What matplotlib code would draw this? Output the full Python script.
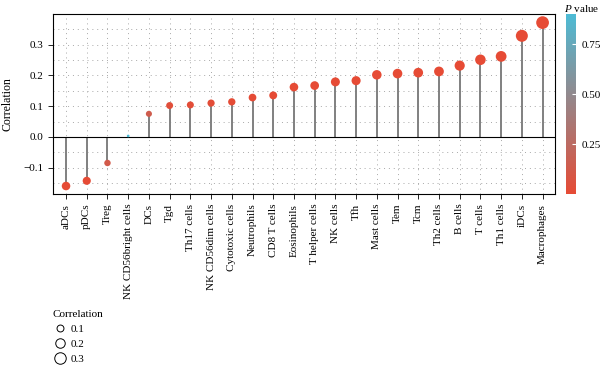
import numpy as np
import matplotlib
matplotlib.use("Agg")
import matplotlib.pyplot as plt
from matplotlib.colors import LinearSegmentedColormap, Normalize
from matplotlib.lines import Line2D

plt.rcParams['font.family'] = ['Liberation Serif', 'DejaVu Serif']
plt.rcParams['mathtext.fontset'] = 'custom'
plt.rcParams['mathtext.rm'] = 'Liberation Serif'
plt.rcParams['mathtext.it'] = 'Liberation Serif:italic'

cells = ["aDCs", "pDCs", "Treg", "NK CD56bright cells", "DCs", "Tgd", "Th17 cells",
         "NK CD56dim cells", "Cytotoxic cells", "Neutrophils", "CD8 T cells", "Eosinophils",
         "T helper cells", "NK cells", "Tfh", "Mast cells", "Tem", "Tcm", "Th2 cells",
         "B cells", "T cells", "Th1 cells", "iDCs", "Macrophages"]
corr = [-0.160, -0.143, -0.085, 0.003, 0.075, 0.102, 0.104, 0.110, 0.114, 0.128, 0.135, 0.162,
        0.167, 0.179, 0.183, 0.202, 0.206, 0.209, 0.213, 0.232, 0.251, 0.262, 0.329, 0.372]
pval = [0.001, 0.003, 0.12, 0.95, 0.14, 0.03, 0.02, 0.02, 0.01, 0.005, 0.003, 0.001,
        0.001, 0.001, 0.001, 0.001, 0.001, 0.001, 0.001, 0.001, 0.001, 0.001, 0.001, 0.001]
legend_vals = [0.1, 0.2, 0.3]


def dot_size(r):
    return 3.0 + 218 * np.abs(np.asarray(r))


cmap = LinearSegmentedColormap.from_list("pv", ["#E64B35", "#4DBBD5"])
norm = Normalize(vmin=0, vmax=0.9)

fig = plt.figure(figsize=(6, 3.65), dpi=100)
ax = fig.add_axes([0.0883, 0.4685, 0.8367, 0.4931])

x = np.arange(len(cells))
ax.vlines(x, 0, corr, color="#808080", lw=1.4, zorder=2)
ax.axhline(0, color="black", lw=0.8, zorder=2)
ax.scatter(x, corr, s=dot_size(corr), c=pval, cmap=cmap, norm=norm, zorder=3, linewidths=0)

ax.set_xlim(-0.63, len(cells) - 0.4)
ax.set_ylim(-0.186, 0.40)
ax.set_yticks([-0.1, 0.0, 0.1, 0.2, 0.3])
ax.set_yticklabels(["\u22120.1", "0.0", "0.1", "0.2", "0.3"])
ax.set_yticks(np.arange(-0.15, 0.40, 0.05), minor=True)
ax.set_xticks(x)
ax.set_xticklabels(cells, rotation=90)
ax.tick_params(axis="both", labelsize=8, length=3.5, width=0.6, colors="black")
ax.tick_params(axis="y", which="minor", length=0)
ax.grid(True, which="both", linestyle=(0, (1, 4)), color="#a8a8a8", lw=0.7, zorder=0)
ax.set_axisbelow(True)
ax.set_ylabel("Correlation", fontsize=8.5, labelpad=7)
for sp in ax.spines.values():
    sp.set_linewidth(0.8)

# colorbar
cax = fig.add_axes([0.943, 0.4685, 0.0178, 0.4931])
cb = fig.colorbar(plt.cm.ScalarMappable(norm=norm, cmap=cmap), cax=cax)
cb.set_ticks([0.25, 0.5, 0.75])
cb.set_ticklabels(["0.25", "0.50", "0.75"])
cb.outline.set_visible(False)
cax.tick_params(labelsize=8, length=3, width=0.8, color="white", direction="in")
fig.text(0.97, 0.978, "$P$ value", fontsize=8, ha="center", va="center")

# size legend
handles = [Line2D([], [], marker="o", linestyle="none", markerfacecolor="white",
                  markeredgecolor="black", markeredgewidth=0.7,
                  markersize=np.sqrt(dot_size(v))) for v in legend_vals]
fig.legend(handles, [str(v) for v in legend_vals], title="Correlation",
           loc="upper left", bbox_to_anchor=(0.079, 0.165), frameon=False,
           fontsize=8, title_fontsize=8, handletextpad=0.4, labelspacing=0.45,
           borderpad=0, handlelength=1.2, alignment="left")

fig.savefig("out.png", dpi=100)
